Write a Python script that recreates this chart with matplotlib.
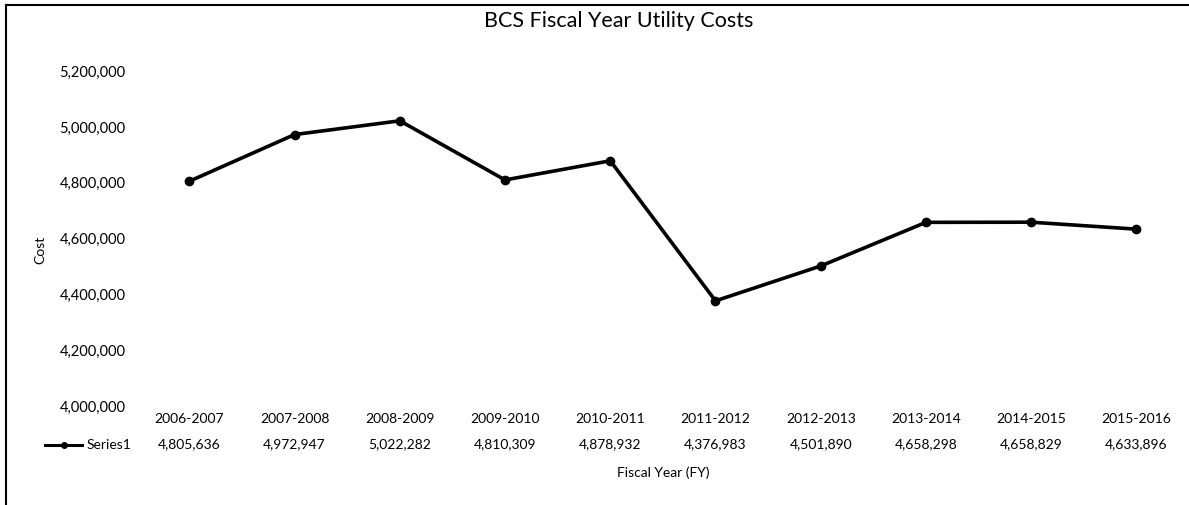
import matplotlib
matplotlib.use("Agg")
import matplotlib.pyplot as plt
from matplotlib.lines import Line2D
from matplotlib.transforms import blended_transform_factory
from matplotlib.ticker import FuncFormatter

categories = ["2006-2007", "2007-2008", "2008-2009", "2009-2010", "2010-2011",
              "2011-2012", "2012-2013", "2013-2014", "2014-2015", "2015-2016"]
costs = [4805636, 4972947, 5022282, 4810309, 4878932,
         4376983, 4501890, 4658298, 4658829, 4633896]
yticks = [4000000, 4200000, 4400000, 4600000, 4800000, 5000000, 5200000]
series_name = "Series1"

plt.rcParams['font.family'] = ['Lato', 'DejaVu Sans']

fig = plt.figure(figsize=(11.89, 5.05), dpi=100)
ax = fig.add_axes([0.115, 0.196, 0.885, 0.663])

x = list(range(len(categories)))
ax.plot(x, costs, color='black', lw=2.6, marker='o', ms=6, solid_joinstyle='round')
ax.set_xlim(-0.5, len(categories) - 0.5)
ax.set_ylim(yticks[0], yticks[-1])
ax.set_yticks(yticks)
ax.yaxis.set_major_formatter(FuncFormatter(lambda v, p: f"{int(v):,}"))
ax.tick_params(axis='y', length=0, labelsize=10.5, pad=8)
ax.set_xticks([])
for s in ax.spines.values():
    s.set_visible(False)

trans = blended_transform_factory(ax.transData, ax.transAxes)
for xi, cat, val in zip(x, categories, costs):
    ax.text(xi, -0.04, cat, transform=trans, ha='center', va='center', fontsize=10)
    ax.text(xi, -0.115, f"{val:,}", transform=trans, ha='center', va='center', fontsize=10)

ax.text(0.5, -0.2, "Fiscal Year (FY)", transform=ax.transAxes, ha='center', va='center', fontsize=10)
fig.text(0.034, 0.505, "Cost", rotation=90, ha='center', va='center', fontsize=10)
fig.text(0.52, 0.958, "BCS Fiscal Year Utility Costs", ha='center', va='center', fontsize=15.5)

# legend key for the table row
fig.add_artist(Line2D([0.038, 0.0535, 0.069], [0.118, 0.118, 0.118], color='black', lw=2.2,
                      marker='o', markevery=[1], ms=4))
fig.text(0.073, 0.118, series_name, ha='left', va='center', fontsize=10)

# outer frame (top and left)
fig.add_artist(Line2D([0.005, 1.0], [0.99, 0.99], color='black', lw=1.5))
fig.add_artist(Line2D([0.005, 0.005], [0.0, 0.99], color='black', lw=1.5))

fig.savefig("out.png", dpi=100, facecolor='white')
